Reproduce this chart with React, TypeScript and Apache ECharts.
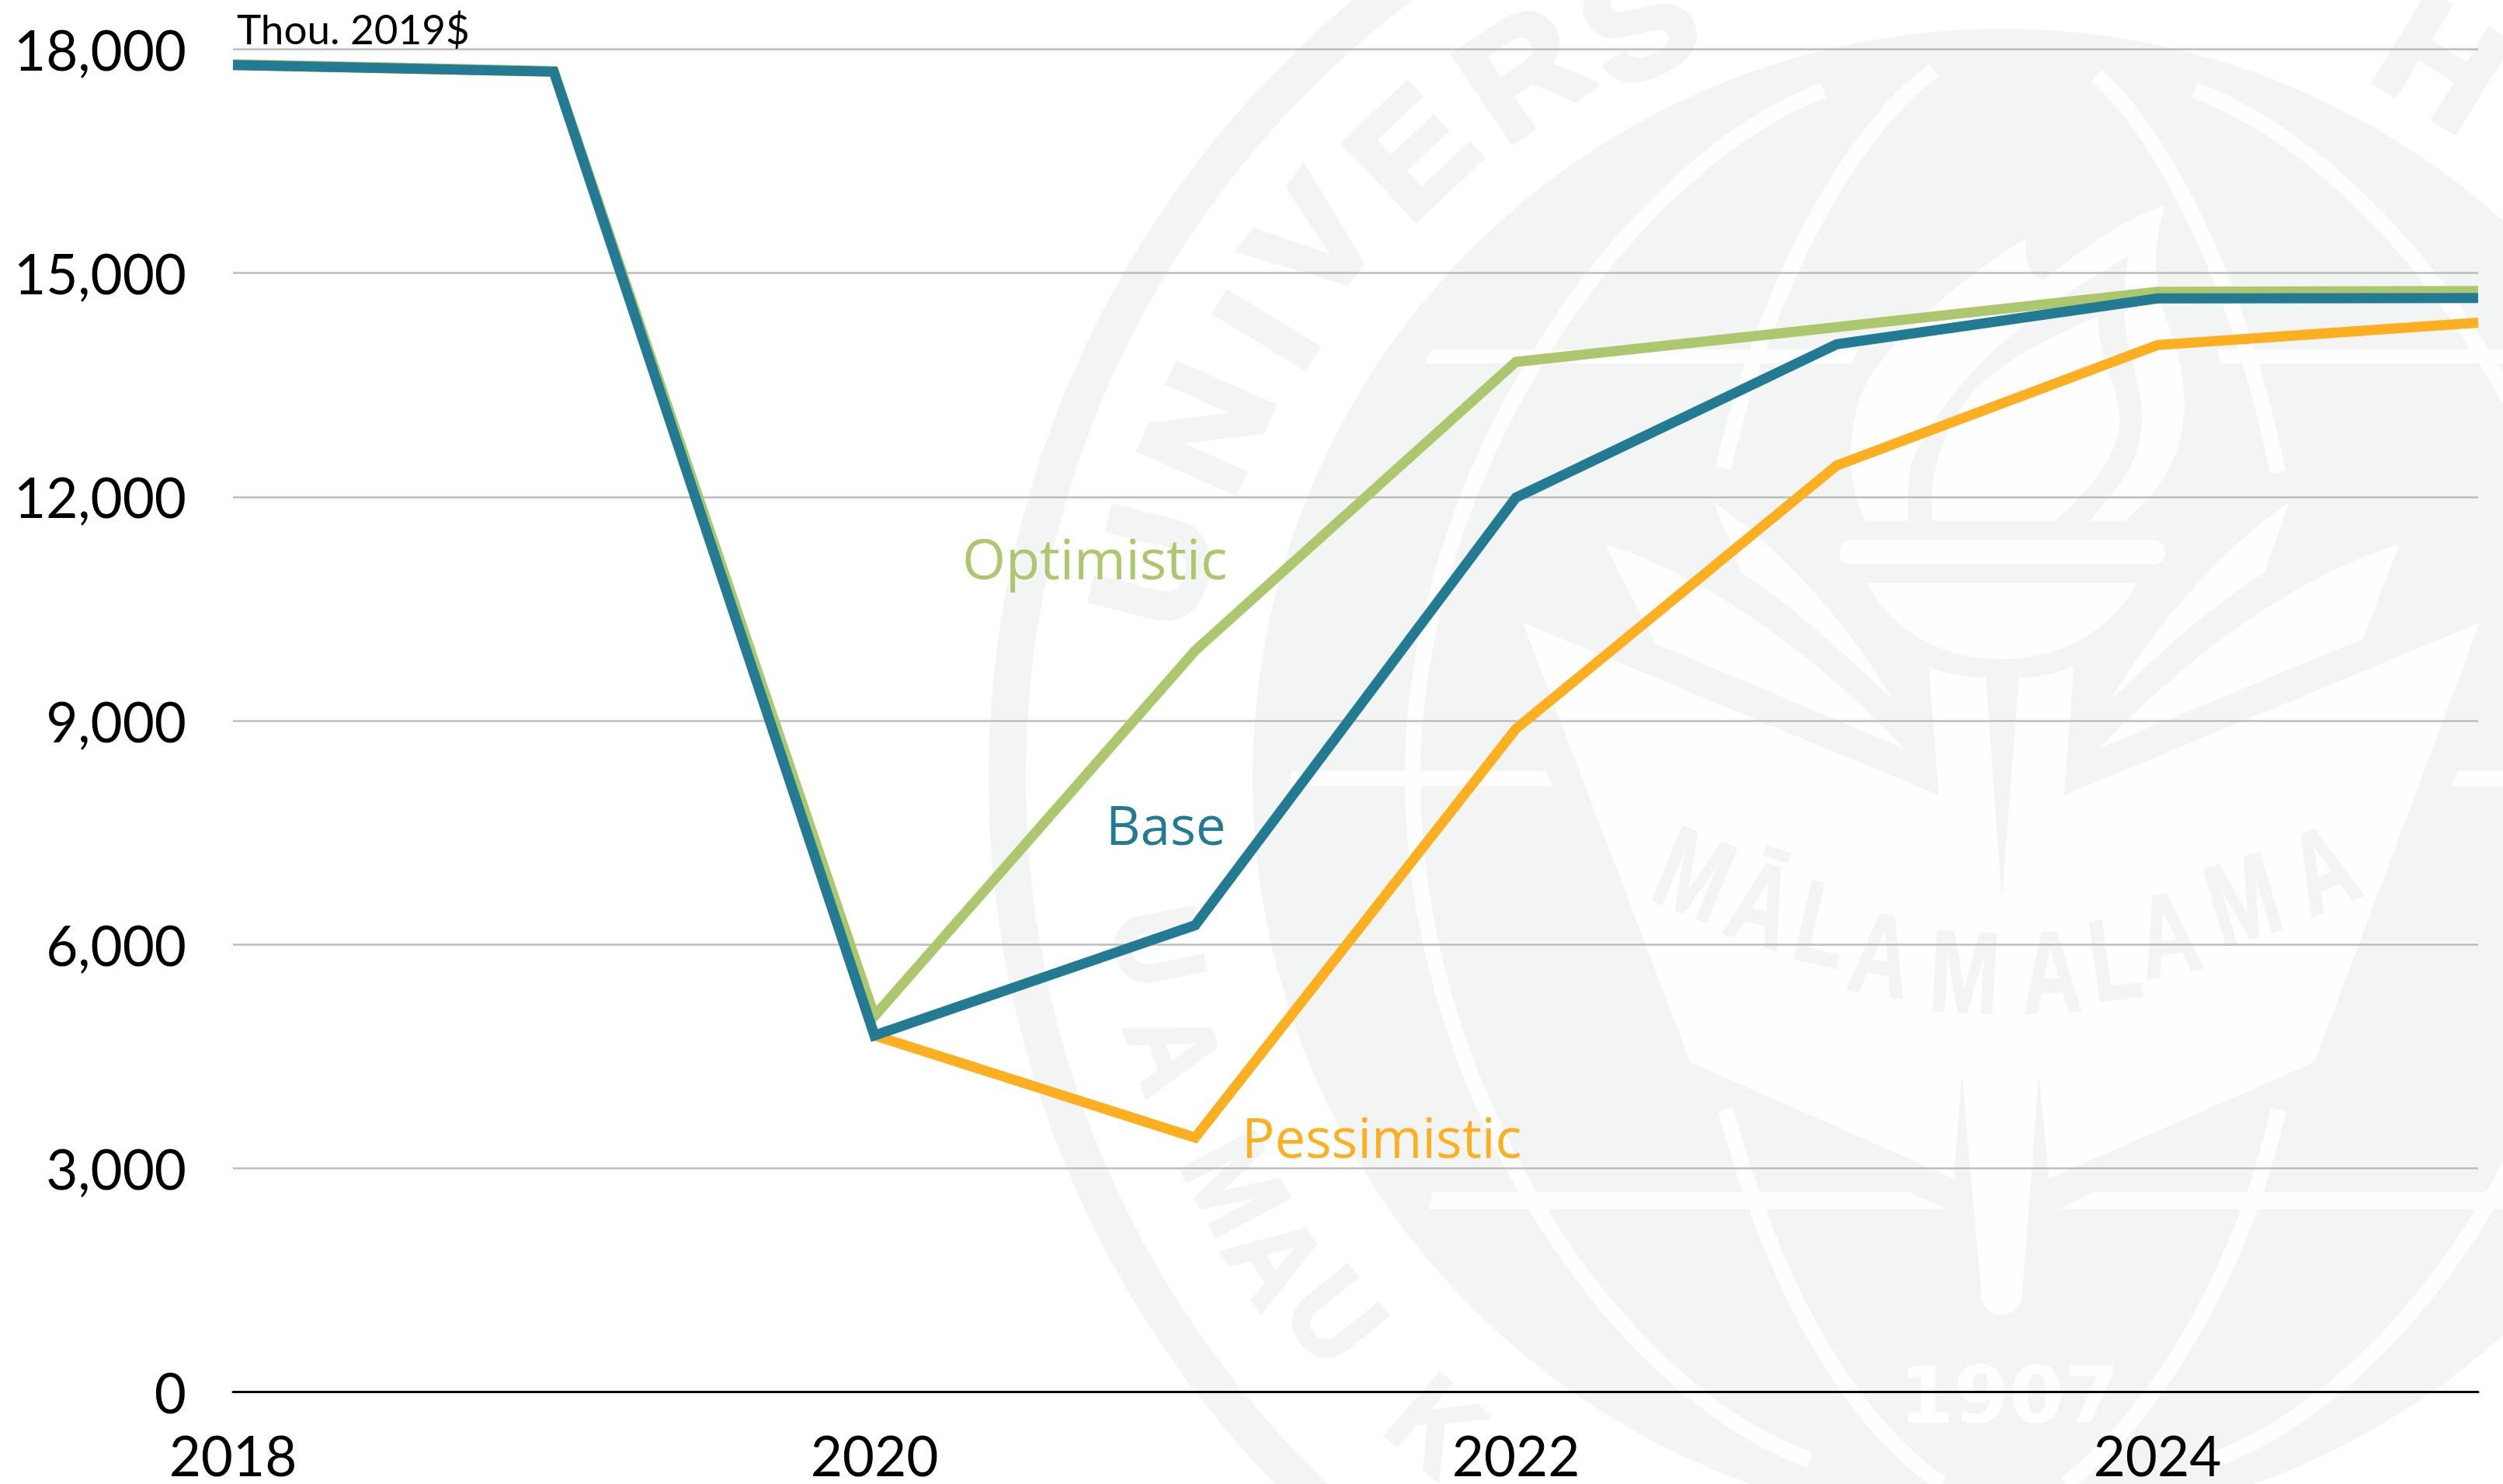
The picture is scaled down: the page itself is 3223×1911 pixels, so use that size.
import React, { useEffect, useRef } from "react";
import * as echarts from "echarts";

const W = 3223;
const H = 1911;

const years = ["2018", "2019", "2020", "2021", "2022", "2023", "2024", "2025"];
const optimistic = [17800, 17710, 5040, 9940, 13810, 14275, 14750, 14760];
const base = [17790, 17700, 4780, 6257, 11990, 14045, 14660, 14665];
const pessimistic = [17790, 17700, 4780, 3410, 8890, 12420, 14035, 14335];
const yMax = 18000;
const yStep = 3000;

const TEAL = "#237a93";
const GREEN = "#acc76e";
const ORANGE = "#fcaf20";
const SEAL = "#f3f5f4";
const WHITE = "#fefefe";

const sealCx = 2578;
const sealCy = 1002;

const sealShapes: Record<string, string> = {
  sealShield:
    "M590 658 L1005 840 L995 705 C1015 712 1035 716 1052 716 L1068 950 L1085 716 C1105 716 1122 712 1140 703 L1130 840 L1545 658 L1380 1122 L1115 1245 L1105 1135 L1088 1370 C1085 1395 1050 1395 1048 1370 L1028 1135 L1020 1245 L757 1122 Z",
  sealLeaves:
    "M780 530 C860 590 920 670 960 740 C910 690 860 640 808 605 Z M672 575 C780 610 890 700 970 790 L722 680 Z M1355 530 C1276 590 1216 670 1176 740 C1226 690 1276 640 1330 605 Z M1465 575 C1356 610 1246 700 1166 790 L1428 675 Z",
  sealFlameOuter:
    "M340 1010 C290 900 280 760 340 620 C400 500 600 320 805 195 C795 250 815 320 860 312 C940 250 1060 150 1205 100 C1170 220 1170 320 1210 430 C1280 620 1310 830 1090 1010 L990 1010 C1080 900 1140 840 1140 700 C1130 560 1060 480 1100 245 C1000 310 620 500 470 850 C462 920 462 960 465 1010 Z",
  sealFlameInner:
    "M535 1010 C520 850 580 720 660 630 C760 530 900 470 1012 420 C1010 540 1075 620 1075 720 C1075 830 960 950 890 1010 Z",
  sealBowl: "M345 1190 L1125 1190 C1050 1330 900 1410 730 1410 C560 1410 420 1330 345 1190 Z",
  sealMeridianOuterL: "M2348 116 C2100 210 1819 600 1819 1002 C1819 1404 2080 1790 2330 1880",
  sealMeridianOuterR: "M2826 116 C3080 210 3361 600 3361 1002 C3361 1404 3100 1790 2850 1880",
  sealMeridianTopL: "M2490 91 C2380 170 2270 380 2219 603",
  sealMeridianTopR: "M2700 97 C2780 170 2880 350 2933 608",
  sealMeridianBotL: "M2222 1429 C2280 1640 2370 1820 2500 1911",
  sealMeridianBotR: "M2934 1429 C2890 1620 2790 1810 2660 1911",
};
Object.entries(sealShapes).forEach(([name, d]) => {
  echarts.graphic.registerShape(name, echarts.graphic.extendPath(d, {}));
});

const sealTopLetters: [string, number, number][] = [
  ["U", 1484, 729],
  ["N", 1553, 551],
  ["I", 1630, 425],
  ["V", 1690, 310],
  ["E", 1817, 195],
  ["R", 1960, 92],
  ["S", 2110, 29],
  ["H", 3145, 80],
];
const sealBottomLetters: [string, number, number][] = [
  ["U", 1493, 1219],
  ["A", 1513, 1353],
  ["M", 1591, 1524],
  ["A", 1643, 1622],
  ["U", 1720, 1695],
  ["K", 1850, 1835],
];
const sealMotto: [string, number, number][] = [
  ["M", 2182, 1126],
  ["Ā", 2268, 1164],
  ["L", 2347, 1190],
  ["A", 2422, 1229],
  ["M", 2530, 1252],
  ["A", 2641, 1252],
  ["L", 2723, 1235],
  ["A", 2791, 1203],
  ["M", 2888, 1158],
  ["A", 2991, 1119],
];

const whitePolys: number[][][] = [
  [[1845, 450], [2393, 450], [2384, 468], [1834, 468]],
  [[2855, 450], [3223, 450], [3223, 468], [2860, 468]],
  [[1662, 993], [1990, 993], [2000, 1012], [1662, 1012]],
  [[3165, 993], [3223, 993], [3223, 1013], [3156, 1013]],
  [[1845, 1535], [2458, 1535], [2505, 1557], [1839, 1557]],
  [[2695, 1535], [3223, 1535], [3223, 1557], [2651, 1557]],
];

function sealElements(): any[] {
  const z = -10;
  const out: any[] = [];
  out.push({
    type: "circle", z, silent: true,
    shape: { cx: sealCx, cy: sealCy, r: 1281 },
    style: { fill: "none", stroke: SEAL, lineWidth: 48 },
  });
  out.push({
    type: "circle", z, silent: true,
    shape: { cx: sealCx, cy: sealCy, r: 965 },
    style: { fill: SEAL },
  });
  const z5 = { x: 1200, y: 0, scaleX: 2023 / 1568, scaleY: 1911 / 1568 };
  const z7 = { x: 2250, y: 220, scaleX: 700 / 1568, scaleY: 700 / 1568 };
  out.push({ type: "sealShield", z, silent: true, ...z5, style: { fill: WHITE } });
  out.push({ type: "sealLeaves", z, silent: true, ...z5, style: { fill: WHITE } });
  out.push({ type: "sealFlameOuter", z, silent: true, ...z7, style: { fill: WHITE } });
  out.push({ type: "sealFlameInner", z, silent: true, ...z7, style: { fill: WHITE } });
  out.push({ type: "sealBowl", z, silent: true, ...z7, style: { fill: WHITE } });
  out.push({
    type: "rect", z, silent: true,
    shape: { x: 2250 + 265 / 2.24, y: 220 + 1065 / 2.24, width: 940 / 2.24, height: 70 / 2.24, r: 15 },
    style: { fill: WHITE },
  });
  ["sealMeridianOuterL", "sealMeridianOuterR", "sealMeridianTopL", "sealMeridianTopR", "sealMeridianBotL", "sealMeridianBotR"].forEach((t) => {
    out.push({ type: t, z, silent: true, style: { fill: "none", stroke: WHITE, lineWidth: 20 } });
  });
  whitePolys.forEach((points) => {
    out.push({ type: "polygon", z, silent: true, shape: { points }, style: { fill: WHITE } });
  });
  const letter = (ch: string, x: number, y: number, deg: number, size: number, sx: number, stroke: number) => ({
    type: "text", z, silent: true, x, y, rotation: (-deg * Math.PI) / 180, scaleX: sx,
    style: {
      text: ch, x: 0, y: 0, align: "center", verticalAlign: "middle",
      fontFamily: "Liberation Sans", fontWeight: "bold", fontSize: size, fill: SEAL,
      stroke: SEAL, lineWidth: stroke,
    },
  });
  sealTopLetters.forEach(([ch, x, y]) => {
    const deg = (Math.atan2(x - sealCx, sealCy - y) * 180) / Math.PI;
    out.push(letter(ch, x, y, deg, 195, 1.05, 8));
  });
  sealBottomLetters.forEach(([ch, x, y]) => {
    const deg = (Math.atan2(sealCx - x, y - sealCy) * 180) / Math.PI;
    out.push(letter(ch, x, y, deg, 155, 0.9, 4));
  });
  sealMotto.forEach(([ch, x, y]) => {
    out.push(letter(ch, x, y, (2586 - x) * 0.055, 150, 0.72, 2));
  });
  out.push({
    type: "text", z, silent: true, x: 2587, y: 1796,
    style: {
      text: "1907", x: 0, y: 0, align: "center", verticalAlign: "middle",
      fontFamily: "DejaVu Sans", fontWeight: "bold", fontSize: 102, fill: WHITE,
    },
  });
  return out;
}

function labelEl(text: string, x: number, y: number, fill: string, fontSize: number, fontFamily: string) {
  return {
    type: "text", z: 20, silent: true, x, y,
    style: { text, x: 0, y: 0, align: "left", verticalAlign: "middle", fontFamily, fontSize, fill },
  };
}

function lineSeries(name: string, data: number[], color: string) {
  return {
    name,
    type: "line",
    data,
    symbol: "none",
    smooth: false,
    lineStyle: { color, width: 13, join: "miter", miterLimit: 10, cap: "butt" },
    clip: false,
  };
}

export default function App() {
  const ref = useRef<HTMLDivElement>(null);
  useEffect(() => {
    document.body.style.margin = "0";
    const chart = echarts.init(ref.current!, undefined, { renderer: "svg" });
    chart.setOption({
      animation: false,
      backgroundColor: "#ffffff",
      grid: { left: 300, right: W - 3191, top: 63.5, bottom: H - 1792.5, containLabel: false },
      xAxis: {
        type: "category",
        data: years,
        boundaryGap: false,
        axisLine: { show: true, lineStyle: { color: "#000000", width: 3 } },
        axisTick: { show: false },
        splitLine: { show: false },
        axisLabel: {
          interval: (i: number) => i % 2 === 0,
          margin: 45,
          fontFamily: "Lato",
          fontSize: 71,
          color: "#000000",
        },
      },
      yAxis: {
        type: "value",
        min: 0,
        max: yMax,
        interval: yStep,
        axisLine: { show: false },
        axisTick: { show: false },
        splitLine: { show: true, lineStyle: { color: "#bcbcbc", width: 2.5 } },
        axisLabel: {
          margin: 60,
          fontFamily: "Lato",
          fontSize: 71,
          color: "#000000",
          formatter: (v: number) => v.toLocaleString("en-US"),
        },
      },
      graphic: {
        elements: [
          ...sealElements(),
          labelEl("Thou. 2019$", 305, 36, "#000000", 53, "Lato"),
          labelEl("Optimistic", 1239, 718, GREEN, 72, "Open Sans"),
          labelEl("Base", 1424, 1061, TEAL, 69, "Open Sans"),
          labelEl("Pessimistic", 1599, 1464, ORANGE, 70.5, "Open Sans"),
        ],
      },
      series: [
        lineSeries("Pessimistic", pessimistic, ORANGE),
        lineSeries("Optimistic", optimistic, GREEN),
        lineSeries("Base", base, TEAL),
      ],
    });
    return () => chart.dispose();
  }, []);
  return <div ref={ref} style={{ position: "absolute", left: 0, top: 0, width: W, height: H }} />;
}
